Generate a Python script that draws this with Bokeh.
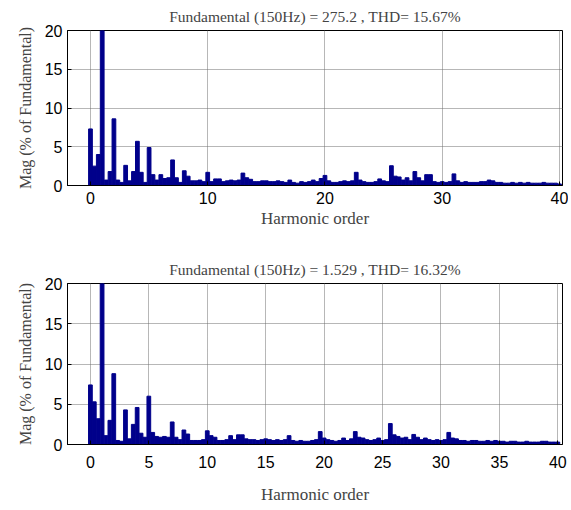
from bokeh.plotting import figure
from bokeh.layouts import column
from bokeh.models import Range1d, FixedTicker
from bokeh.embed import file_html
from bokeh.resources import INLINE

# Harmonic order grid: resolution of 1/3 harmonic (50 Hz steps, 150 Hz fundamental)
orders = [k / 3 for k in range(121)]

# Magnitudes (% of fundamental), three bins per harmonic (h, h+1/3, h+2/3)
mag_top = [
    7.3, 2.5, 4.0,   100, 0.7, 1.8,   8.6, 0.7, 0.4,   2.6, 0.6, 1.8,
    5.7, 1.7, 0.4,   4.9, 1.4, 0.7,   1.4, 0.9, 1.0,   3.3, 1.0, 0.4,
    1.9, 1.2, 0.6,   0.6, 0.7, 0.5,   1.7, 0.5, 0.85,  0.85, 0.5, 0.6,
    0.7, 0.6, 0.7,   1.6, 1.0, 0.8,   0.5, 0.5, 0.6,   0.6, 0.5, 0.5,
    0.6, 0.5, 0.4,   0.7, 0.4, 0.3,   0.5, 0.4, 0.5,   0.7, 0.5, 0.9,
    1.3, 0.6, 0.4,   0.4, 0.5, 0.6,   0.5, 0.6, 1.7,   0.7, 0.5, 0.4,
    0.4, 0.5, 0.85,  0.6, 0.5, 2.55,  1.2, 1.1, 0.7,   1.0, 0.6, 1.8,
    1.0, 0.6, 1.4,   1.4, 0.5, 0.4,   0.5, 0.4, 0.5,   1.5, 0.6, 0.4,
    0.5, 0.4, 0.4,   0.4, 0.5, 0.5,   0.7, 0.6, 0.4,   0.4, 0.3, 0.3,
    0.4, 0.3, 0.4,   0.3, 0.4, 0.3,   0.3, 0.3, 0.4,   0.3, 0.3, 0.3,
    0.2,
]
mag_bottom = [
    7.4, 5.3, 3.2,   100, 1.1, 3.0,   8.8, 0.5, 0.4,   4.3, 0.7, 2.5,
    4.6, 1.4, 0.9,   6.0, 1.5, 1.0,   0.9, 1.0, 0.9,   2.8, 0.9, 0.6,
    1.8, 1.3, 0.5,   0.5, 0.5, 0.6,   1.7, 1.1, 0.9,   0.5, 0.5, 0.6,
    1.1, 0.6, 1.2,   1.2, 0.7, 0.6,   0.6, 0.5, 0.6,   0.7, 0.6, 0.5,
    0.6, 0.5, 0.6,   1.1, 0.5, 0.4,   0.5, 0.4, 0.4,   0.5, 0.6, 1.6,
    0.8, 0.6, 0.5,   0.4, 0.5, 0.8,   0.5, 0.7, 1.6,   0.9, 0.8, 0.6,
    0.5, 0.6, 0.8,   0.5, 0.6, 2.6,   1.2, 1.0, 0.8,   0.9, 0.6, 1.25,
    0.9, 0.6, 0.8,   0.6, 0.5, 0.6,   0.5, 0.6, 1.5,   0.8, 0.7, 0.5,
    0.5, 0.4, 0.5,   0.5, 0.4, 0.4,   0.5, 0.4, 0.5,   0.4, 0.4, 0.3,
    0.4, 0.4, 0.3,   0.3, 0.4, 0.3,   0.3, 0.3, 0.4,   0.4, 0.3, 0.3,
    0.3,
]

title_top = "Fundamental (150Hz) = 275.2 , THD= 15.67%"
title_bottom = "Fundamental (150Hz) = 1.529 , THD= 16.32%"
xticks_top = [0, 10, 20, 30, 40]
xticks_bottom = [0, 5, 10, 15, 20, 25, 30, 35, 40]
yticks = [0, 5, 10, 15, 20]
xlabel = "Harmonic order"
ylabel = "Mag (% of Fundamental)"

BAR = "#00008b"
SERIF = "Liberation Serif"
SANS = "Liberation Sans"


def make(title, mags, xticks, height, b_top, b_left, b_bottom,
         tick_standoff, xlab_standoff, xmax):
    p = figure(width=568, height=height, output_backend="svg", toolbar_location=None,
               x_range=Range1d(-1.96, xmax), y_range=Range1d(0, 20),
               min_border_left=b_left, min_border_right=6,
               min_border_top=b_top, min_border_bottom=b_bottom)
    p.title.text = title
    p.title.align = "center"
    p.title.text_font = SERIF
    p.title.text_font_size = "15.5px"
    p.title.text_font_style = "normal"
    p.title.standoff = 11
    p.vbar(x=orders, top=mags, width=0.32, color=BAR, line_color=BAR)

    p.outline_line_color = "black"
    p.outline_line_width = 1
    p.outline_line_alpha = 1
    for ax in (p.xaxis[0], p.yaxis[0]):
        ax.major_tick_in = 4
        ax.major_tick_out = 0
        ax.minor_tick_in = 0
        ax.minor_tick_out = 0
        ax.axis_line_color = "black"
        ax.major_tick_line_color = "black"
        ax.major_label_text_font = SANS
        ax.major_label_text_font_size = "16px"
        ax.major_label_text_color = "black"
    p.xaxis.ticker = FixedTicker(ticks=xticks)
    p.yaxis.ticker = FixedTicker(ticks=yticks)
    p.xaxis.major_label_standoff = tick_standoff
    p.yaxis.major_label_standoff = 5
    p.xaxis.axis_label = xlabel
    p.xaxis.axis_label_text_font = SERIF
    p.xaxis.axis_label_text_font_size = "17px"
    p.xaxis.axis_label_text_font_style = "normal"
    p.xaxis.axis_label_standoff = xlab_standoff
    p.yaxis.axis_label = ylabel
    p.yaxis.axis_label_text_font = SERIF
    p.yaxis.axis_label_text_font_size = "16px"
    p.yaxis.axis_label_text_font_style = "normal"
    p.yaxis.axis_label_standoff = 8

    p.xgrid.ticker = FixedTicker(ticks=xticks)
    p.ygrid.ticker = FixedTicker(ticks=yticks)
    for g in (p.xgrid[0], p.ygrid[0]):
        g.grid_line_color = "#6e6e6e"
        g.grid_line_dash = "1 1"
        g.grid_line_width = 1
    return p


p1 = make(title_top, mag_top, xticks_top, 240, 28, 67, 55, 6, 2, 40.26)
p2 = make(title_bottom, mag_bottom, xticks_bottom, 268, 43, 65, 64, 11, 14, 40.4)

layout = column(p1, p2, spacing=0)
open("out.html", "w").write(file_html(layout, INLINE))
